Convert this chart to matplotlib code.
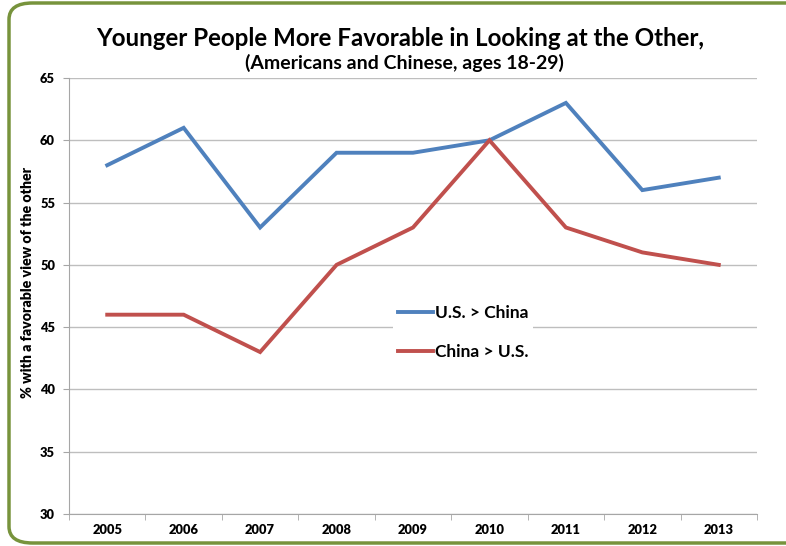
import matplotlib.pyplot as plt
from matplotlib.patches import FancyBboxPatch

# data
years = ['2005', '2006', '2007', '2008', '2009', '2010', '2011', '2012', '2013']
us_view_china = [58, 61, 53, 59, 59, 60, 63, 56, 57]
china_view_us = [46, 46, 43, 50, 53, 60, 53, 51, 50]
yticks = [30, 35, 40, 45, 50, 55, 60, 65]

plt.rcParams['font.family'] = ['Lato', 'DejaVu Sans']

fig = plt.figure(figsize=(7.86, 5.46), dpi=100)
W, H = 786, 546

# green rounded frame
frame = FancyBboxPatch((9 / W, 3 / H), 800 / W, 540 / H,
                       boxstyle='round,pad=0,rounding_size=0.03',
                       transform=fig.transFigure, facecolor='white',
                       edgecolor='#77933C', linewidth=2.5, zorder=-1)
fig.patches.append(frame)

ax = fig.add_axes([69 / W, 32 / H, 688 / W, 436 / H])
ax.set_facecolor('none')

x = range(len(years))
ax.plot(x, us_view_china, color='#4F81BD', linewidth=2.8, label='U.S. > China',
        solid_joinstyle='miter', zorder=3)
ax.plot(x, china_view_us, color='#C0504D', linewidth=2.8, label='China > U.S.',
        solid_joinstyle='miter', zorder=3)

ax.set_xlim(-0.5, len(years) - 0.5)
ax.set_ylim(30, 65)
ax.set_yticks(yticks)
ax.set_xticks(x)
ax.set_xticklabels(years)
ax.set_xticks([i - 0.5 for i in range(len(years) + 1)], minor=True)

ax.grid(axis='y', color='#BEBEBE', linewidth=1)
ax.set_axisbelow(True)
for s in ['top', 'right']:
    ax.spines[s].set_visible(False)
for s in ['left', 'bottom']:
    ax.spines[s].set_color('#A6A6A6')
ax.tick_params(axis='x', which='major', length=0, pad=7)
ax.tick_params(axis='x', which='minor', length=4, color='#A6A6A6')
ax.tick_params(axis='y', length=4, color='#A6A6A6', pad=6)
for lab in ax.get_xticklabels() + ax.get_yticklabels():
    lab.set_fontweight('heavy')
    lab.set_fontsize(9.3)

ax.set_ylabel('% with a favorable view of the other', fontsize=10.2,
              fontweight='heavy', va='center')
ax.yaxis.set_label_coords(-0.061, 0.532)

leg = ax.legend(loc='center', bbox_to_anchor=(0.573, 0.416), frameon=True,
                fancybox=False, edgecolor='none', framealpha=1,
                handlelength=2.0, handletextpad=0.1, labelspacing=1.3,
                borderpad=0.3, prop={'weight': 'bold', 'size': 12.5})

fig.text(0.509, 0.93, 'Younger People More Favorable in Looking at the Other,',
         ha='center', va='center', fontsize=17.4, fontweight='bold')
fig.text(0.515, 0.885, '(Americans and Chinese, ages 18-29)',
         ha='center', va='center', fontsize=14, fontweight='bold')

fig.savefig('out.png', dpi=100)
